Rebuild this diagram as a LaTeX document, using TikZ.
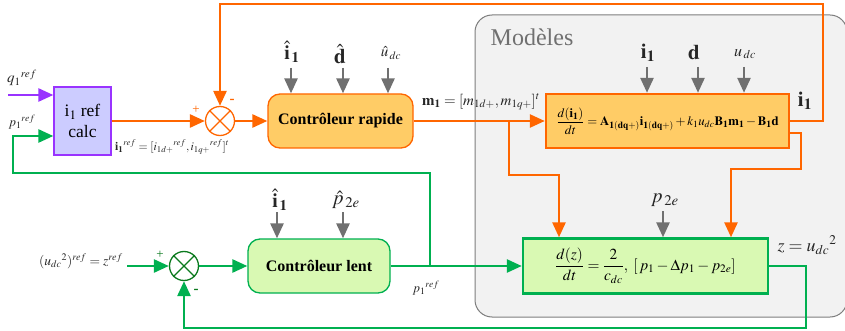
\documentclass[tikz,border=0pt]{standalone}
\usepackage{mathptmx}
\usepackage{amsmath}
\usepackage[no-math]{fontspec}
\setmainfont{Liberation Serif}
\usetikzlibrary{arrows.meta}
\definecolor{org}{HTML}{FF6600}
\definecolor{grn}{HTML}{00B050}
\definecolor{dgrn}{HTML}{0B7A1E}
\definecolor{pur}{HTML}{9933FF}
\definecolor{gry}{HTML}{707070}
\definecolor{ofill}{HTML}{FFCC66}
\definecolor{gfill}{HTML}{D9F9B3}
\definecolor{vfill}{HTML}{CCCCFF}
\tikzset{
 x=1pt,y=-1pt,
 tipb/.style={-{Triangle[length=15pt,width=13pt]}},
 olink/.style={draw=org,line width=2.6pt,tipb},
 glink/.style={draw=grn,line width=2.6pt,tipb},
 plink/.style={draw=pur,line width=2.6pt,tipb},
 glnk/.style={draw=gry,line width=2.6pt,-{Triangle[length=15pt,width=13pt]}},
 sumnode/.style={circle,inner sep=0pt,minimum size=29pt,fill=white,line width=1.3pt},
 lbl/.style={inner sep=0pt,anchor=center,text=black!85},
 ctrl/.style={rounded corners=12pt,line width=1.3pt},
 mod/.style={line width=2.4pt},
}
\begin{document}
\begin{tikzpicture}
\useasboundingbox (0,0) rectangle (845,331);
\fill[white] (0,0) rectangle (845,331);
% model panel
\draw[draw=gry!90,fill=black!5,line width=1pt,rounded corners=17pt] (475,15) rectangle (847,317);
\node[lbl,text=gry,font=\fontsize{24}{24}\selectfont] (modt) at (532,37) {Modèles};
% blocks
\node[draw=pur,fill=vfill,line width=1.3pt,minimum width=57pt,minimum height=68pt,inner sep=0pt,align=center,font=\fontsize{17.5}{21}\selectfont,text=black] (calc) at (82.5,121) {i$_1$ ref\\calc};
\node[draw=org,fill=ofill,ctrl,minimum width=145pt,minimum height=54pt,inner sep=0pt,font=\fontsize{16}{18}\selectfont\bfseries] (rap) at (340.5,121) {Contrôleur rapide};
\node[draw=grn,fill=gfill,ctrl,minimum width=142pt,minimum height=54pt,inner sep=0pt,font=\fontsize{16}{18}\selectfont\bfseries] (lent) at (319,266) {Contrôleur lent};
\node[draw=org,fill=ofill,mod,minimum width=243pt,minimum height=54pt,inner sep=0pt] (m1) at (667.5,121) {\fontsize{12.8}{14}\selectfont $\dfrac{d(\mathbf{i_1})}{dt}=\mathbf{A}_{\mathbf{1(dq+)}}\mathbf{i}_{\mathbf{1(dq+)}}+k_1u_{dc}\mathbf{B_1m_1}-\mathbf{B_1d}$};
\node[draw=grn,fill=gfill,mod,minimum width=245pt,minimum height=55pt,inner sep=0pt] (m2) at (645.5,266) {\fontsize{15.4}{16}\selectfont $\dfrac{d(z)}{dt}=\dfrac{2}{c_{dc}},\;[\,p_1-\Delta p_1-p_{2e}]$};
% sums
\node[draw=org,sumnode] (s1) at (220,121) {};
\draw[org,line width=1.3pt] (s1.45) -- (s1.225) (s1.135) -- (s1.315);
\node[draw=dgrn,sumnode] (s2) at (184,266) {};
\draw[dgrn,line width=1.3pt] (s2.45) -- (s2.225) (s2.135) -- (s2.315);
% free ends
\coordinate (qin) at (8,95);
\coordinate (zin) at (127,266);
\coordinate (m1outb) at (m1.east|-0,133);
\coordinate (m2top1) at (559,0);
\coordinate (m2top2) at (731,0);
\coordinate (brO) at (509,121);
\coordinate (brG) at (430,266);
% orange
\draw[olink] (calc.east) -- (s1.west);
\draw[olink] (s1.east) -- (rap.west);
\draw[olink] (rap.east) -- (m1.west);
\draw[olink] (m1.east) -- (823,121) -- (823,4) -- (220,4) -- (s1.north);
\draw[olink] (brO) -- (509,175) -- (559,175) -- (m2top1|-m2.north);
\draw[olink] (m1outb) -- (801,133) -- (801,169) -- (731,169) -- (m2top2|-m2.north);
% green
\draw[glink] (zin) -- (s2.west);
\draw[glink] (s2.east) -- (lent.west);
\draw[glink] (lent.east) -- (m2.west);
\draw[glink] (brG) -- (430,173) -- (13,173) -- (13,136) -- (calc.west|-0,136);
\draw[glink] (m2.east) -- (806,266) -- (806,328) -- (184,328) -- (s2.south);
% purple
\draw[plink] (qin) -- (calc.west|-qin);
% gray
\coordinate (g1) at (291,68);\coordinate (g2) at (343,68);\coordinate (g3) at (388,68);
\coordinate (g4) at (647,67);\coordinate (g5) at (698,67);\coordinate (g6) at (744,67);
\coordinate (g7) at (277,212);\coordinate (g8) at (343,212);\coordinate (g9) at (663,211);
\draw[glnk] (g1) -- (g1|-rap.north);
\draw[glnk] (g2) -- (g2|-rap.north);
\draw[glnk] (g3) -- (g3|-rap.north);
\draw[glnk] (g4) -- (g4|-m1.north);
\draw[glnk] (g5) -- (g5|-m1.north);
\draw[glnk] (g6) -- (g6|-m1.north);
\draw[glnk] (g7) -- (g7|-lent.north);
\draw[glnk] (g8) -- (g8|-lent.north);
\draw[glnk] (g9) -- (g9|-m2.north);
% labels
\node[lbl,font=\fontsize{15}{15}\selectfont] (q) at (22,78) {$q_1{}^{ref}$};
\node[lbl,font=\fontsize{13}{13}\selectfont] (p) at (22,122) {$p_1{}^{ref}$};
\node[lbl,anchor=west,font=\fontsize{11.8}{12}\selectfont] (ir) at (115,147) {$\mathbf{i_1}{}^{ref}=[i_{1d+}{}^{ref},i_{1q+}{}^{ref}]^t$};
\node[lbl,text=org,font=\fontsize{13}{13}\selectfont] (pl1) at (196,110) {+};
\node[lbl,text=org,font=\fontsize{15}{13}\selectfont\bfseries] (mi1) at (232,101) {-};
\node[lbl,text=dgrn,font=\fontsize{13}{13}\selectfont] (pl2) at (160,255) {+};
\node[lbl,text=dgrn,font=\fontsize{15}{13}\selectfont\bfseries] (mi2) at (196,291) {-};
\node[lbl,font=\fontsize{20}{20}\selectfont] (h1) at (292,52) {$\hat{\mathbf{i}}_{\,\mathbf{1}}$};
\node[lbl,font=\fontsize{21}{21}\selectfont] (h2) at (340,54) {$\hat{\mathbf{d}}$};
\node[lbl,font=\fontsize{15}{15}\selectfont] (h3) at (391,53) {$\hat{u}_{\,dc}$};
\node[lbl,anchor=west,font=\fontsize{15}{15}\selectfont] (m) at (422,102) {$\mathbf{m_1}=[m_{1d+},m_{1q+}]^t$};
\node[lbl,font=\fontsize{21}{21}\selectfont] (i1a) at (648,53) {$\mathbf{i_1}$};
\node[lbl,font=\fontsize{21}{21}\selectfont] (da) at (694,53) {$\mathbf{d}$};
\node[lbl,font=\fontsize{16}{16}\selectfont] (ua) at (745,54) {$u_{\,dc}$};
\node[lbl,font=\fontsize{21}{21}\selectfont] (i1b) at (805,101) {$\mathbf{i_1}$};
\node[lbl,font=\fontsize{20}{20}\selectfont] (p2) at (665,200) {$p_{\,2e}$};
\node[lbl,font=\fontsize{20}{20}\selectfont] (h4) at (280,200) {$\hat{\mathbf{i}}_{\,\mathbf{1}}$};
\node[lbl,font=\fontsize{20}{20}\selectfont] (h5) at (346,200) {$\hat{p}_{\,2e}$};
\node[lbl,font=\fontsize{18}{18}\selectfont] (z) at (807,245) {$z=u_{dc}{}^{2}$};
\node[lbl,font=\fontsize{13.5}{13.5}\selectfont] (zr) at (81,261) {$(u_{dc}{}^{2})^{ref}=z^{ref}$};
\node[lbl,font=\fontsize{13}{13}\selectfont] (p3) at (426,288) {$p_1{}^{ref}$};
\end{tikzpicture}
\end{document}
